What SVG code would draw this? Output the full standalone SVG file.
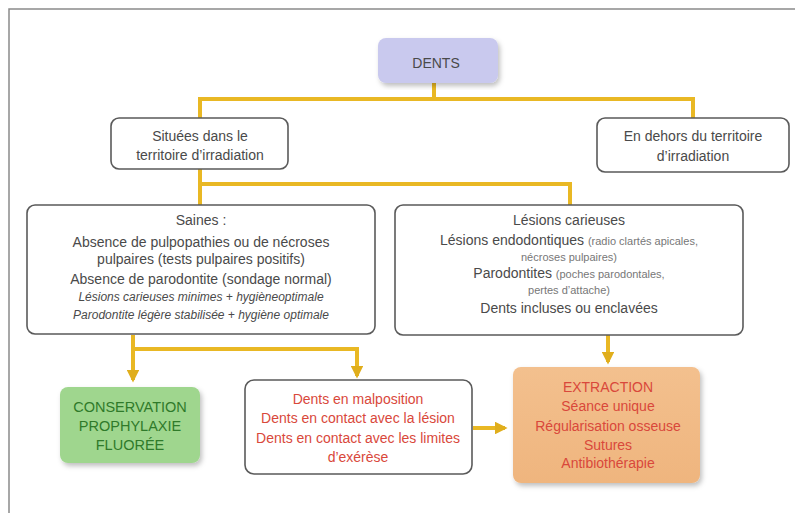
<svg xmlns="http://www.w3.org/2000/svg" width="795" height="513" viewBox="0 0 795 513">
<defs>
<style>
.box{fill:#fff;stroke:#5a5a5a;stroke-width:1.6}
.t{font-family:"Liberation Sans",Arial,sans-serif;font-size:14px;fill:#4a4a4a;text-anchor:middle}
.s{font-size:11px;fill:#777}
.i{font-style:italic;font-size:12px}
.red{fill:#d9483b}
.grn{fill:#2f7a2a;font-size:14.5px}
.conn{fill:none;stroke:#e9b824;stroke-width:4}
</style>
<marker id="ah" viewBox="0 0 10 10" refX="8" refY="5" markerWidth="3.2" markerHeight="3.2" orient="auto">
<path d="M0,0 L10,5 L0,10 z" fill="#e0ae1c"/>
</marker>
<filter id="sh" x="-10%" y="-10%" width="125%" height="125%">
<feDropShadow dx="2" dy="3" stdDeviation="2.5" flood-color="#000" flood-opacity="0.25"/>
</filter>
<linearGradient id="og" x1="0" y1="0" x2="0" y2="1">
<stop offset="0" stop-color="#f3c08e"/>
<stop offset="1" stop-color="#efb57e"/>
</linearGradient>
</defs>
<rect width="795" height="513" fill="#fff"/>
<path d="M9,513 V9 H795" fill="none" stroke="#8a8a8a" stroke-width="1.5"/>

<g id="connectors">
<path class="conn" d="M434,83 V99 M200,99 H693 M200,97 V118 M693,97 V118"/>
<path class="conn" d="M200,169 V184 M200,184 H571 M200,184 V205 M570,182 V205"/>
<path class="conn" d="M133,335 V349 H357"/>
<path class="conn" d="M133,349 V380" marker-end="url(#ah)"/>
<path class="conn" d="M357,347 V376" marker-end="url(#ah)"/>
<path class="conn" d="M608,335 V362" marker-end="url(#ah)"/>
<path class="conn" d="M473,428 H505" marker-end="url(#ah)"/>
</g>

<g id="dents">
<rect x="378" y="38" width="120" height="45" rx="8" fill="#c9c9ee" filter="url(#sh)"/>
<text class="t" x="436" y="68">DENTS</text>
</g>

<g id="situees">
<rect class="box" x="111" y="118" width="177" height="51" rx="8"/>
<text class="t" x="200" y="141">Situées dans le</text>
<text class="t" x="200" y="160">territoire d’irradiation</text>
</g>

<g id="dehors">
<rect class="box" x="597" y="118" width="192" height="54" rx="8"/>
<text class="t" x="693" y="141">En dehors du territoire</text>
<text class="t" x="693" y="161">d’irradiation</text>
</g>

<g id="saines">
<rect class="box" x="27" y="205" width="348" height="129" rx="8"/>
<text class="t" x="201" y="225">Saines :</text>
<text class="t" x="201" y="247">Absence de pulpopathies ou de nécroses</text>
<text class="t" x="201" y="264">pulpaires (tests pulpaires positifs)</text>
<text class="t" x="201" y="284">Absence de parodontite (sondage normal)</text>
<text class="t i" x="201" y="301">Lésions carieuses minimes + hygièneoptimale</text>
<text class="t i" x="201" y="319">Parodontite légère stabilisée + hygiène optimale</text>
</g>

<g id="lesions">
<rect class="box" x="395" y="205" width="348" height="130" rx="8"/>
<text class="t" x="569" y="225">Lésions carieuses</text>
<text class="t" x="569" y="245">Lésions endodontiques <tspan class="s">(radio clartés apicales,</tspan></text>
<text class="t s" x="569" y="261">nécroses pulpaires)</text>
<text class="t" x="569" y="278">Parodontites <tspan class="s">(poches parodontales,</tspan></text>
<text class="t s" x="569" y="294">pertes d’attache)</text>
<text class="t" x="569" y="313">Dents incluses ou enclavées</text>
</g>

<g id="conservation">
<rect x="60" y="387" width="140" height="76" rx="8" fill="#9fd68e" filter="url(#sh)"/>
<text class="t grn" x="130" y="412">CONSERVATION</text>
<text class="t grn" x="130" y="431">PROPHYLAXIE</text>
<text class="t grn" x="130" y="450">FLUORÉE</text>
</g>

<g id="malposition">
<rect class="box" x="245" y="380" width="227" height="94" rx="9"/>
<text class="t red" x="358" y="404" font-size="13.5">Dents en malposition</text>
<text class="t red" x="358" y="423" font-size="13.5">Dents en contact avec la lésion</text>
<text class="t red" x="358" y="443" font-size="13.5">Dents en contact avec les limites</text>
<text class="t red" x="358" y="462" font-size="13.5">d’exérèse</text>
</g>

<g id="extraction">
<rect x="513" y="367" width="187" height="116" rx="8" fill="url(#og)" filter="url(#sh)"/>
<text class="t red" x="608" y="392" font-size="14.5">EXTRACTION</text>
<text class="t red" x="608" y="411" font-size="14.5">Séance unique</text>
<text class="t red" x="608" y="431" font-size="14.5">Régularisation osseuse</text>
<text class="t red" x="608" y="450" font-size="14.5">Sutures</text>
<text class="t red" x="608" y="468" font-size="14.5">Antibiothérapie</text>
</g>
</svg>
